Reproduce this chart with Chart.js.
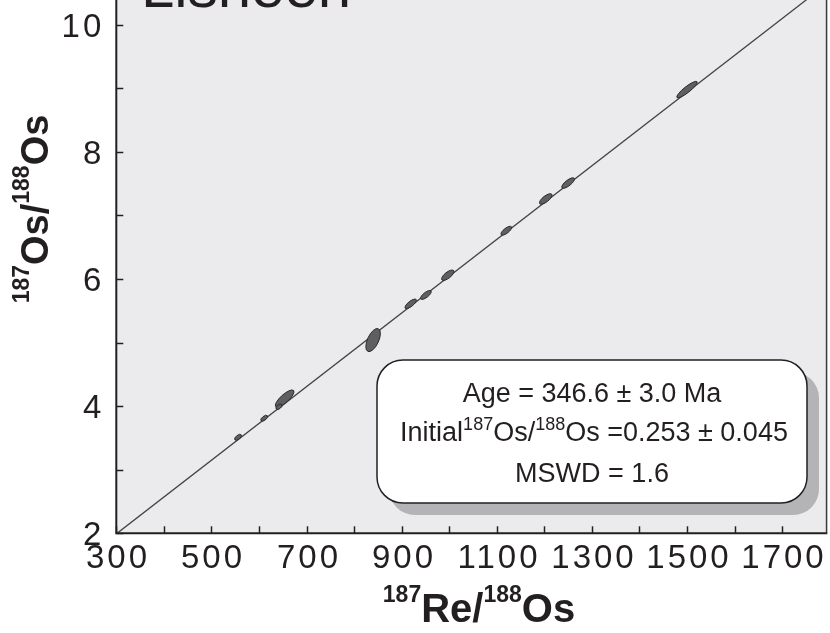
<!DOCTYPE html>
<html lang="en">
<head>
  <meta charset="UTF-8" />
  <title>Lisheen Re-Os isochron</title>
  <script src="https://cdn.jsdelivr.net/npm/chart.js"></script>
  <style>
    html, body {
      margin: 0;
      padding: 0;
      background: #fff;
      overflow: hidden;
    }
    #wrap {
      position: relative;
      width: 830px;
      height: 633px;
    }
  </style>
</head>
<body>
  <div id="wrap"><canvas id="isochron" width="830" height="633"></canvas></div>

  <script>
    // measured 187Re/188Os and 187Os/188Os with 2-sigma errors and error correlation
    const reOs   = [556, 611, 654, 642, 840, 919, 951, 997, 1120, 1203, 1250, 1500];
    const osOs   = [3.51, 3.81, 4.12, 3.99, 5.04, 5.61, 5.75, 6.06, 6.76, 7.26, 7.51, 8.98];
    const reErr  = [7.1, 7.1, 19.6, 6.3, 15.3, 12.0, 11.2, 13.0, 11.2, 13.3, 13.4, 21.5];
    const osErr  = [0.046, 0.046, 0.135, 0.042, 0.182, 0.075, 0.070, 0.082, 0.070, 0.083, 0.083, 0.130];
    const rho    = [0.59, 0.59, 0.80, 0.50, 0.57, 0.76, 0.73, 0.71, 0.73, 0.73, 0.76, 0.89];

    const ageMa = 346.6;
    const initialOs = 0.253;
    const lambda = 1.666e-11;
    const slope = Math.exp(lambda * ageMa * 1e6) - 1;

    const xTicks = [300, 400, 500, 600, 700, 800, 900, 1000, 1100, 1200, 1300, 1400, 1500, 1600, 1700];
    const xTicksLabelled = [300, 500, 700, 900, 1100, 1300, 1500, 1700];
    const yTicks = [2, 3, 4, 5, 6, 7, 8, 9, 10];
    const yTicksLabelled = [2, 4, 6, 8, 10];

    const ink = "#231f20";
    const tickFont = "33px 'Liberation Sans', Arial, sans-serif";

    const lineX = [300, 1800];
    const isoLine = lineX.map(x => ({ x: x, y: initialOs + slope * x }));

    const chartStyle = {
      id: "chartStyle",
      beforeDraw(chart) {
        const { ctx, chartArea: a } = chart;
        ctx.save();
        ctx.fillStyle = "#ebebee";
        ctx.fillRect(a.left, a.top, a.right - a.left, a.bottom - a.top);
        ctx.restore();
      },
      afterDatasetsDraw(chart) {
        const { ctx, chartArea: a } = chart;
        const xs = chart.scales.x, ys = chart.scales.y;
        ctx.save();
        ctx.beginPath();
        ctx.rect(a.left, a.top, a.right - a.left, a.bottom - a.top);
        ctx.clip();
        reOs.forEach((xv, i) => {
          const px = xs.getPixelForValue(xv);
          const py = ys.getPixelForValue(osOs[i]);
          const ex = Math.abs(xs.getPixelForValue(xv + reErr[i]) - px);
          const ey = Math.abs(ys.getPixelForValue(osOs[i] + osErr[i]) - py);
          const cxx = ex * ex, cyy = ey * ey, cxy = -rho[i] * ex * ey;
          const phi = 0.5 * Math.atan2(2 * cxy, cxx - cyy);
          const t = Math.sqrt(((cxx - cyy) / 2) ** 2 + cxy * cxy);
          const l1 = (cxx + cyy) / 2 + t, l2 = Math.max((cxx + cyy) / 2 - t, 0.5);
          ctx.beginPath();
          ctx.ellipse(px, py, Math.sqrt(l1), Math.sqrt(l2), phi, 0, Math.PI * 2);
          ctx.fillStyle = "#5f5f62";
          ctx.fill();
          ctx.lineWidth = 1;
          ctx.strokeStyle = "#2a2a2a";
          ctx.stroke();
        });
        ctx.restore();
      },
      afterDraw(chart) {
        const { ctx, chartArea: a } = chart;
        const xs = chart.scales.x, ys = chart.scales.y;
        ctx.save();

        // inward tick marks and labels, from the scales' own ticks
        ctx.strokeStyle = ink;
        ctx.fillStyle = ink;
        ctx.lineWidth = 1.5;
        ctx.font = tickFont;
        ctx.letterSpacing = "3px";
        ctx.textBaseline = "alphabetic";
        xs.ticks.forEach(t => {
          const p = Math.round(xs.getPixelForValue(t.value)) + 0.5;
          ctx.beginPath();
          ctx.moveTo(p, a.bottom);
          ctx.lineTo(p, a.bottom - 7);
          ctx.stroke();
          if (xTicksLabelled.includes(t.value)) {
            ctx.textAlign = "center";
            ctx.fillText(String(t.value), p + 1.5, a.bottom + 35);
          }
        });
        ys.ticks.forEach(t => {
          const p = Math.round(ys.getPixelForValue(t.value)) + 0.5;
          ctx.beginPath();
          ctx.moveTo(a.left, p);
          ctx.lineTo(a.left + 7, p);
          ctx.stroke();
          if (yTicksLabelled.includes(t.value)) {
            ctx.textAlign = "right";
            ctx.fillText(String(t.value), a.left - 12, p + 11);
          }
        });
        ctx.letterSpacing = "0px";

        // frame
        ctx.lineWidth = 2;
        ctx.beginPath();
        ctx.moveTo(a.left, a.top);
        ctx.lineTo(a.left, a.bottom);
        ctx.lineTo(a.right, a.bottom);
        ctx.stroke();
        ctx.lineWidth = 1.5;
        ctx.strokeStyle = "#3a3a3a";
        ctx.beginPath();
        ctx.moveTo(a.right - 0.75, a.top);
        ctx.lineTo(a.right - 0.75, a.bottom);
        ctx.stroke();

        // title, cut at the top as in the figure
        ctx.fillStyle = ink;
        ctx.font = "60px 'Liberation Sans', Arial, sans-serif";
        ctx.textAlign = "left";
        ctx.fillText("Lisheen", 141, 7);

        // result box
        const bx = 377, by = 360, bw = 430, bh = 143, r = 26;
        ctx.fillStyle = "#b4b4b6";
        ctx.beginPath();
        ctx.roundRect(bx + 12, by + 12, bw, bh, r);
        ctx.fill();
        ctx.fillStyle = "#fff";
        ctx.beginPath();
        ctx.roundRect(bx, by, bw, bh, r);
        ctx.fill();
        ctx.lineWidth = 1.5;
        ctx.strokeStyle = ink;
        ctx.stroke();

        const cx = bx + bw / 2;
        const body = "27px 'Liberation Sans', Arial, sans-serif";
        const sup = "18px 'Liberation Sans', Arial, sans-serif";
        ctx.fillStyle = ink;
        ctx.font = body;
        ctx.textAlign = "center";
        ctx.fillText("Age = " + ageMa.toFixed(1) + " \u00b1 3.0 Ma", cx, 402);
        ctx.fillText("MSWD = 1.6", cx, 482);
        drawRich(ctx, [
          ["Initial", body, 0], ["187", sup, -11], ["Os/", body, 0],
          ["188", sup, -11], ["Os =" + initialOs.toFixed(3) + " \u00b1 0.045", body, 0]
        ], cx + 2, 441, "center");

        // axis titles
        const tb = "bold 40px 'Liberation Sans', Arial, sans-serif";
        const ts = "bold 23px 'Liberation Sans', Arial, sans-serif";
        drawRich(ctx, [["187", ts, -20], ["Re/", tb, 0], ["188", ts, -20], ["Os", tb, 0]],
          479, 622, "center");
        ctx.save();
        ctx.translate(48, 209);
        ctx.rotate(-Math.PI / 2);
        const tbv = "bold 38px 'Liberation Sans', Arial, sans-serif";
        drawRich(ctx, [["187", ts, -19], ["Os/", tbv, 0], ["188", ts, -19], ["Os", tbv, 0]],
          0, 0, "center");
        ctx.restore();

        ctx.restore();
      }
    };

    function drawRich(ctx, parts, x, y, align) {
      let total = 0;
      parts.forEach(p => { ctx.font = p[1]; total += ctx.measureText(p[0]).width; });
      let cur = align === "center" ? x - total / 2 : x;
      ctx.textAlign = "left";
      parts.forEach(p => {
        ctx.font = p[1];
        ctx.fillText(p[0], cur, y + p[2]);
        cur += ctx.measureText(p[0]).width;
      });
    }

    new Chart(document.getElementById("isochron"), {
      type: "scatter",
      data: {
        datasets: [{
          type: "line",
          data: isoLine,
          borderColor: "#444446",
          borderWidth: 1.3,
          pointRadius: 0,
          fill: false
        }, {
          data: reOs.map((x, i) => ({ x: x, y: osOs[i] })),
          pointRadius: 0,
          pointHoverRadius: 0
        }]
      },
      options: {
        responsive: false,
        animation: false,
        events: [],
        layout: { padding: { left: 0, right: 2.7, top: 0, bottom: 0 } },
        plugins: { legend: { display: false }, tooltip: { enabled: false } },
        scales: {
          x: {
            type: "linear",
            min: 300,
            max: 1795,
            grid: { display: false, drawTicks: false },
            border: { display: false },
            ticks: { display: false },
            afterBuildTicks(s) { s.ticks = xTicks.map(v => ({ value: v })); },
            afterFit(s) { s.height = 99.7; s.paddingLeft = 0; s.paddingRight = 0; }
          },
          y: {
            type: "linear",
            min: 2,
            max: 10.39,
            grid: { display: false, drawTicks: false },
            border: { display: false },
            ticks: { display: false },
            afterBuildTicks(s) { s.ticks = yTicks.map(v => ({ value: v })); },
            afterFit(s) { s.width = 116.3; s.paddingTop = 0; s.paddingBottom = 0; }
          }
        }
      },
      plugins: [chartStyle]
    });
  </script>
</body>
</html>
